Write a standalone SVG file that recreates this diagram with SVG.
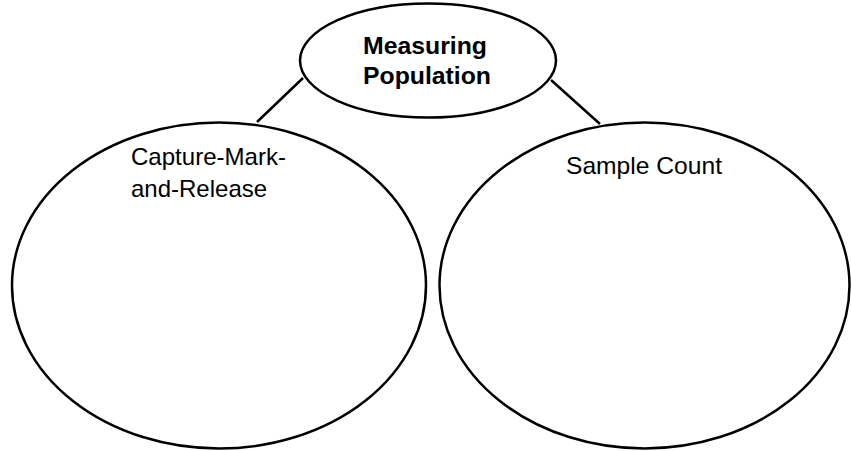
<svg xmlns="http://www.w3.org/2000/svg" width="851" height="451" viewBox="0 0 851 451">
<style>
.node{fill:#fff;stroke:#000;stroke-width:2.5}
.conn{stroke:#000;stroke-width:2.5;fill:none}
text{font-family:"Liberation Sans",Arial,sans-serif;font-size:24px;fill:#000}
.b{font-weight:bold}
</style>
<rect width="851" height="451" fill="#fff"/>
<g id="connectors">
<line class="conn" x1="303" y1="78" x2="257" y2="122"/>
<line class="conn" x1="551" y1="80" x2="600" y2="124"/>
</g>
<g id="measuring-population">
<ellipse class="node" cx="428" cy="60.5" rx="128" ry="57"/>
<text class="b" x="363" y="53.5" textLength="124" lengthAdjust="spacingAndGlyphs">Measuring</text>
<text class="b" x="363" y="83.5" textLength="128" lengthAdjust="spacingAndGlyphs">Population</text>
</g>
<g id="capture-mark-release">
<ellipse class="node" cx="219" cy="285.5" rx="207" ry="163"/>
<text x="131" y="165" textLength="155" lengthAdjust="spacingAndGlyphs">Capture-Mark-</text>
<text x="131" y="197">and-Release</text>
</g>
<g id="sample-count">
<ellipse class="node" cx="644.5" cy="285.5" rx="205" ry="163"/>
<text x="566" y="173.5" textLength="156" lengthAdjust="spacingAndGlyphs">Sample Count</text>
</g>
</svg>
